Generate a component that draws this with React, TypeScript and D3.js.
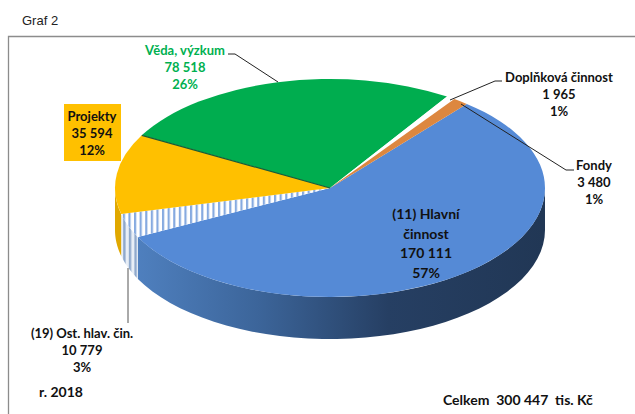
import React from "react";
import * as d3 from "d3";

// values in tis. Kc, clockwise from the top right
const names = ["Hlavni", "Ost", "Projekty", "Veda", "Doplnkova", "Fondy"];
const values = [170111, 10779, 35594, 78518, 1965, 3480];
const colors = ["#558ad6", "url(#stripes)", "#ffc000", "#00ad4f", "#ffffff", "#dd873f"];
const wallColors = ["url(#blueWall)", "url(#stripesWall)", "#e0a800", "#008a3f", "#ffffff", "#b56f33"];

const labelFont = "Lato, 'Open Sans', sans-serif";

const width = 635;
const height = 414;
const cx = 330;
const cy = 188;
const rx = 215;
const ry = 109;
const depth = 42;

const startAngle = (39.5 * Math.PI) / 180;

const pie = d3
  .pie<number>()
  .sort(null)
  .startAngle(startAngle)
  .endAngle(startAngle + 2 * Math.PI);

const arcs = pie(values);

// pie is drawn round, then squashed to the ellipse
const arcGen = d3.arc<any>().innerRadius(0).outerRadius(rx);

const px = (a: number) => cx + rx * Math.sin(a);
const py = (a: number) => cy - ry * Math.cos(a);

// visible outer wall of a slice: only the part facing down
function wallPath(a0: number, a1: number) {
  const from = Math.max(a0, Math.PI / 2);
  const to = Math.min(a1, (3 * Math.PI) / 2);
  if (from >= to) return null;
  const steps = d3.range(0, 41).map((i) => from + ((to - from) * i) / 40);
  const line = d3
    .line<[number, number]>()
    .x((d) => d[0])
    .y((d) => d[1]);
  const top = steps.map((a) => [px(a), py(a)] as [number, number]);
  const bottom = steps
    .slice()
    .reverse()
    .map((a) => [px(a), py(a) + depth] as [number, number]);
  return line(top.concat(bottom)) + "Z";
}

type LabelProps = { x: number; y: number; lines: string[]; fill?: string; size?: number; step?: number };
function Label({ x, y, lines, fill = "#111", size = 13, step = 17 }: LabelProps) {
  return (
    <text
      x={x}
      y={y}
      textAnchor="middle"
      fontFamily={labelFont}
      fontWeight={700}
      fontSize={size}
      fill={fill}
    >
      {lines.map((l, i) => (
        <tspan key={i} x={x} dy={i === 0 ? 0 : step}>
          {l}
        </tspan>
      ))}
    </text>
  );
}

export default function App() {
  return (
    <svg
      width={width}
      height={height}
      style={{ position: "absolute", left: 0, top: 0, background: "#fff" }}
    >
      <defs>
        <pattern id="stripes" width={5.6} height={6} patternUnits="userSpaceOnUse">
          <rect width={5.6} height={6} fill="#fff" />
          <rect width={2.2} height={6} fill="#86aae0" />
        </pattern>
        <pattern id="stripesWall" width={5.6} height={6} patternUnits="userSpaceOnUse">
          <rect width={5.6} height={6} fill="#e8eef6" />
          <rect width={2.4} height={6} fill="#8fa9cc" />
        </pattern>
        <linearGradient id="blueWall" gradientUnits="userSpaceOnUse" x1={135} x2={544} y1={0} y2={0}>
          <stop offset="0" stopColor="#4f80bf" />
          <stop offset="0.3" stopColor="#3c659a" />
          <stop offset="0.62" stopColor="#263f63" />
          <stop offset="1" stopColor="#213755" />
        </linearGradient>
      </defs>

      <text x={22} y={25} fontFamily="'Liberation Sans', Arial, sans-serif" fontSize={13} fill="#222">
        Graf 2
      </text>
      <path d="M8.5 414V36.5H635" fill="none" stroke="#8c8c8c" strokeWidth={1.3} />

      {arcs.map((a, i) => {
        const d = wallPath(a.startAngle, a.endAngle);
        return d ? <path key={names[i]} d={d} fill={wallColors[i]} /> : null;
      })}
      {arcs.map((a, i) => (
        <path
          key={names[i]}
          d={arcGen(a) as string}
          transform={`translate(${cx},${cy}) scale(1,${ry / rx})`}
          fill={colors[i]}
        />
      ))}
      {/* dark seam where the green slice meets the gold one */}
      <line
        x1={cx}
        y1={cy}
        x2={px(arcs[3].startAngle)}
        y2={py(arcs[3].startAngle)}
        stroke="#1d5a36"
        strokeWidth={1.2}
      />

      <g fill="none" stroke="#222" strokeWidth={1}>
        <polyline points="228,54 235,54 278,82" />
        <polyline points="450,100 495,81 502,81" />
        <polyline points="461,104 566,170 574,170" />
        <polyline points="128,268 128,323" stroke="#555" />
      </g>

      <Label x={185} y={55} lines={["Věda, výzkum", "78 518", "26%"]} fill="#00b050" />
      <rect x={64} y={104} width={57} height={57} fill="#ffc000" />
      <Label x={92} y={121} lines={["Projekty", "35 594", "12%"]} />
      <Label x={559} y={82} lines={["Doplňková činnost", "1 965", "1%"]} />
      <Label x={594} y={170} lines={["Fondy", "3 480", "1%"]} />
      <Label x={426} y={219} size={14} step={19.5} lines={["(11) Hlavní", "činnost", "170 111", "57%"]} />
      <Label x={82} y={338} lines={["(19) Ost. hlav. čin.", "10 779", "3%"]} />

      <text x={39} y={397} fontFamily={labelFont} fontWeight={700} fontSize={14} fill="#111">
        r. 2018
      </text>
      <text
        x={443}
        y={405}
        fontFamily={labelFont}
        fontWeight={700}
        fontSize={14}
        fill="#111"
        style={{ whiteSpace: "pre" }}
      >
        Celkem  300 447  tis. Kč
      </text>
    </svg>
  );
}
